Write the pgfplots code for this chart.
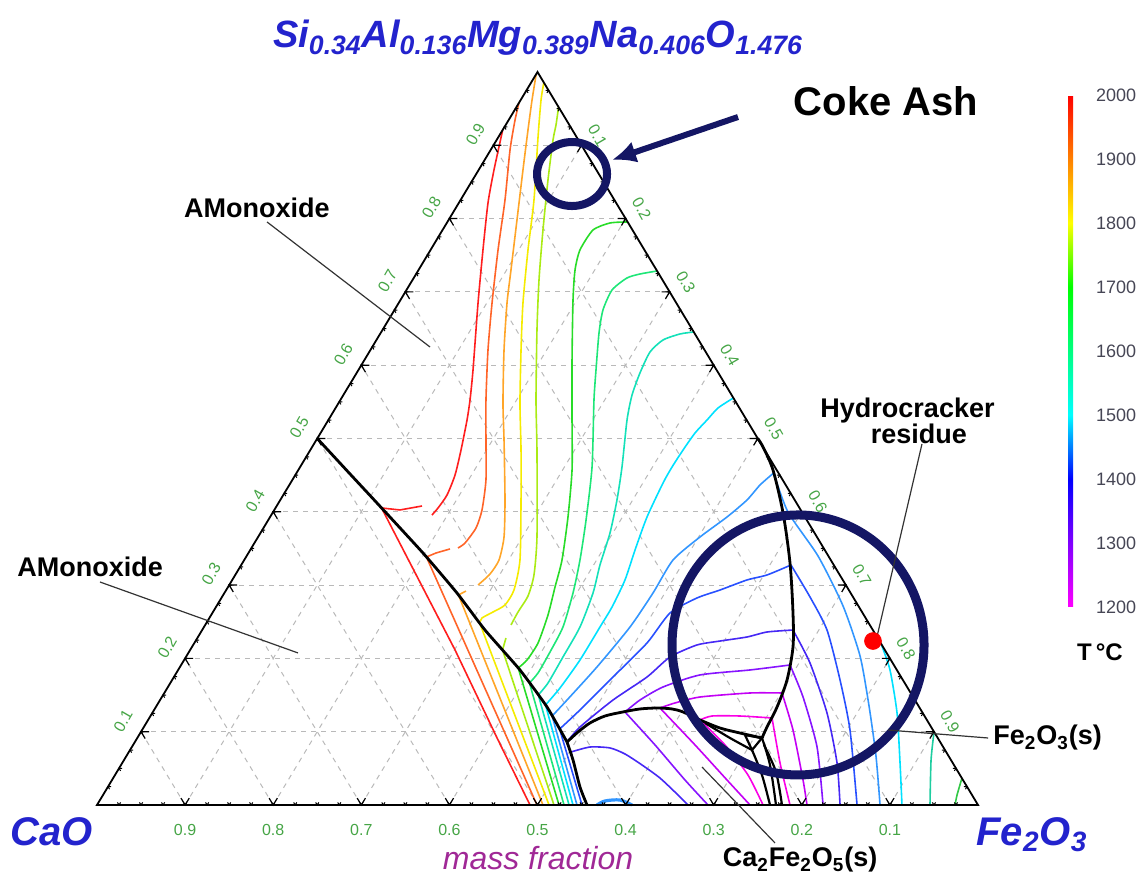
\documentclass[border=0pt]{standalone}
\usepackage{fontspec}
\setmainfont{Liberation Sans}
\usepackage{pgfplots}
\pgfplotsset{compat=1.18}
\usetikzlibrary{arrows.meta}
\definecolor{cL1}{RGB}{255,30,30}
\definecolor{cL2}{RGB}{255,100,40}
\definecolor{cL3}{RGB}{255,165,40}
\definecolor{cL4}{RGB}{245,235,0}
\definecolor{cL5}{RGB}{170,235,20}
\definecolor{cL6}{RGB}{40,220,40}
\definecolor{cL7}{RGB}{30,230,120}
\definecolor{cL8}{RGB}{20,225,185}
\definecolor{cL9}{RGB}{0,225,255}
\definecolor{cL10}{RGB}{50,150,255}
\definecolor{cL11}{RGB}{40,80,255}
\definecolor{cL12}{RGB}{70,40,245}
\definecolor{cL13}{RGB}{135,20,255}
\definecolor{cL14}{RGB}{195,0,245}
\definecolor{cL15}{RGB}{250,0,230}
\definecolor{cR8}{RGB}{30,205,160}
\definecolor{cR7}{RGB}{50,200,70}
\definecolor{navy}{RGB}{20,22,100}
\definecolor{titleblue}{RGB}{35,35,205}
\definecolor{tickgreen}{RGB}{70,165,70}
\definecolor{gridgray}{RGB}{185,185,185}
\definecolor{cbgray}{RGB}{70,70,85}
\definecolor{massmag}{RGB}{160,40,150}
\tikzset{
  grid/.style={draw=gridgray, line width=0.5pt, dash pattern=on 2.5pt off 2.5pt},
  tk/.style={draw=black, line width=0.6pt},
  tl/.style={font=\fontsize{8}{8}\selectfont, text=tickgreen, inner sep=0pt},
  lab/.style={font=\fontsize{13.5}{15}\selectfont\bfseries, text=black, inner sep=0pt},
  ldr/.style={draw=black!80, line width=0.6pt},
  bnd/.style={draw=black, line width=1.4pt},
}
\pgfplotsset{ct/.style={line width=0.8pt, line join=round}}
\begin{document}
\begin{tikzpicture}
\useasboundingbox (0,0) rectangle (570.5pt,441pt);
\begin{axis}[
  scale only axis, width=570.5pt, height=441pt,
  at={(0,0)}, anchor=south west,
  xmin=-0.11010, xmax=1.18501, ymin=-0.10505, ymax=1.09823,
  hide axis, clip=false,
  colormap={tc}{rgb255(0cm)=(255,0,255); rgb255(1cm)=(128,0,255); rgb255(2cm)=(0,0,255); rgb255(3cm)=(0,255,255); rgb255(4cm)=(0,255,128); rgb255(5cm)=(0,255,0); rgb255(6cm)=(255,255,0); rgb255(7cm)=(255,128,0); rgb255(8cm)=(255,0,0)},
  colorbar,
  point meta min=1200, point meta max=2000,
  colorbar style={
    at={(parent axis.south west)},
    anchor=south west,
    xshift=525.5pt, yshift=137.5pt,
    width=2.5pt, height=256pt, scale only axis,
    ytick={1200,1300,1400,1500,1600,1700,1800,1900,2000},
    major tick length=0pt,
    axis line style={draw=none},
    yticklabel style={font=\fontsize{9}{9}\selectfont, text=cbgray, xshift=8pt},
    /pgf/number format/1000 sep={},
    /pgf/number format/assume math mode=true,
  },
]
% ---------- grid ----------
\pgfplotsinvokeforeach{1,...,9}{
  \draw[grid] (axis cs:{#1/20},{#1/10}) -- (axis cs:{1-#1/20},{#1/10});
  \draw[grid] (axis cs:{#1/10},0) -- (axis cs:{0.5+#1/20},{1-#1/10});
  \draw[grid] (axis cs:{#1/10},0) -- (axis cs:{#1/20},{#1/10});
}
% ---------- contours, upper liquid field + fan ----------
\addplot[cL1, ct, smooth, tension=0.4] coordinates {(0.4605,0.9209)(0.4506,0.8663)(0.4438,0.8213)(0.4381,0.7572)(0.4325,0.6849)(0.4268,0.5935)(0.4234,0.5525)(0.4200,0.5252)(0.4132,0.4843)(0.4064,0.4502)(0.3973,0.4229)(0.3871,0.4052)(0.3802,0.3956)};
\addplot[cL1, ct] coordinates {(0.3689,0.4079)(0.3439,0.4025)(0.3230,0.4052)(0.3553,0.3302)(0.4064,0.2115)(0.4552,0.0887)(0.4915,0)};
\addplot[cL2, ct, smooth, tension=0.4] coordinates {(0.4789,0.9577)(0.4745,0.9345)(0.4688,0.8936)(0.4631,0.8254)(0.4552,0.7572)(0.4484,0.6849)(0.4438,0.6207)(0.4415,0.5525)(0.4415,0.4980)(0.4415,0.4434)(0.4370,0.4025)(0.4302,0.3779)(0.4177,0.3574)(0.4098,0.3506)};
\addplot[cL2, ct] coordinates {(0.4007,0.3493)(0.3848,0.3438)(0.3739,0.3383)(0.4994,0)};
\addplot[cL3, ct, smooth, tension=0.4] coordinates {(0.4985,0.9970)(0.4938,0.9618)(0.4892,0.9209)(0.4835,0.8663)(0.4767,0.7981)(0.4699,0.7299)(0.4654,0.6849)(0.4620,0.6207)(0.4608,0.5484)(0.4620,0.4980)(0.4631,0.4161)(0.4620,0.3656)(0.4563,0.3342)(0.4461,0.3151)(0.4325,0.3001)};
\addplot[cL3, ct] coordinates {(0.4188,0.2919)(0.4103,0.2865)(0.5062,0)};
\addplot[cL4, ct, smooth, tension=0.4] coordinates {(0.5072,0.9856)(0.5040,0.9618)(0.5006,0.9113)(0.4960,0.8254)(0.4892,0.7572)(0.4835,0.6849)(0.4813,0.6207)(0.4801,0.5484)(0.4813,0.4843)(0.4813,0.4161)(0.4801,0.3342)(0.4733,0.2933)(0.4631,0.2729)(0.4495,0.2633)(0.4370,0.2551)(0.4344,0.2482)};
\addplot[cL4, ct] coordinates {(0.4344,0.2482)(0.5131,0)};
\addplot[cL5, ct, smooth, tension=0.4] coordinates {(0.5239,0.9523)(0.5210,0.9277)(0.5176,0.9072)(0.5119,0.8527)(0.5062,0.7844)(0.5017,0.7162)(0.4994,0.6480)(0.4983,0.5525)(0.4994,0.4843)(0.4994,0.3656)(0.4960,0.3138)(0.4892,0.2851)(0.4779,0.2633)(0.4699,0.2456)};
\addplot[cL5, ct] coordinates {(0.4642,0.2278)(0.4603,0.2115)(0.5187,0)};
\addplot[cL6, ct, smooth, tension=0.4] coordinates {(0.6020,0.7954)(0.5823,0.7940)(0.5630,0.7844)(0.5482,0.7572)(0.5426,0.7299)(0.5403,0.6889)(0.5392,0.6071)(0.5392,0.5252)(0.5392,0.4570)(0.5346,0.3929)(0.5278,0.3342)(0.5199,0.2974)(0.5119,0.2592)(0.5006,0.2210)(0.4881,0.1978)(0.4781,0.1869)};
\addplot[cL6, ct] coordinates {(0.4781,0.1869)(0.5244,0)};
\addplot[cL7, ct, smooth, tension=0.4] coordinates {(0.6357,0.7285)(0.6163,0.7244)(0.6016,0.7190)(0.5846,0.7026)(0.5743,0.6753)(0.5698,0.6439)(0.5664,0.5935)(0.5641,0.5525)(0.5619,0.4611)(0.5551,0.3888)(0.5482,0.3342)(0.5403,0.2892)(0.5289,0.2428)(0.5142,0.2087)(0.5006,0.1801)(0.4909,0.1665)};
\addplot[cL7, ct] coordinates {(0.4909,0.1665)(0.5301,0)};
\addplot[cL8, ct, smooth, tension=0.4] coordinates {(0.6772,0.6453)(0.6618,0.6426)(0.6425,0.6344)(0.6277,0.6180)(0.6163,0.5894)(0.6073,0.5593)(0.6016,0.5252)(0.5959,0.4611)(0.5902,0.4161)(0.5823,0.3711)(0.5709,0.3274)(0.5630,0.2892)(0.5482,0.2428)(0.5289,0.2019)(0.5119,0.1664)(0.5009,0.1501)};
\addplot[cL8, ct] coordinates {(0.5009,0.1501)(0.5358,0)};
\addplot[cL9, ct, smooth, tension=0.4] coordinates {(0.7224,0.5553)(0.7049,0.5416)(0.6924,0.5252)(0.6788,0.5075)(0.6652,0.4843)(0.6527,0.4611)(0.6425,0.4393)(0.6243,0.3929)(0.6107,0.3479)(0.5993,0.3070)(0.5846,0.2701)(0.5709,0.2428)(0.5482,0.1978)(0.5255,0.1596)(0.5091,0.1364)};
\addplot[cL9, ct] coordinates {(0.5091,0.1364)(0.5403,0)};
\addplot[cL10, ct, smooth, tension=0.4] coordinates {(0.7680,0.4529)(0.7526,0.4366)(0.7378,0.4161)(0.7151,0.3929)(0.6844,0.3656)(0.6538,0.3342)(0.6311,0.2892)(0.6050,0.2428)(0.5675,0.1883)(0.5335,0.1432)(0.5166,0.1214)};
\addplot[cL10, ct] coordinates {(0.5166,0.1214)(0.5448,0)};
\addplot[cL10, ct, smooth, tension=0.4] coordinates {(0.7680,0.4529)(0.7843,0.3997)(0.8184,0.3397)(0.8468,0.2715)(0.8661,0.2033)(0.8763,0.1351)(0.8842,0.0668)(0.8888,0)};
\addplot[cL11, ct, smooth, tension=0.4] coordinates {(0.7877,0.3274)(0.7605,0.3138)(0.7378,0.3070)(0.7072,0.2933)(0.6810,0.2824)(0.6504,0.2619)(0.6243,0.2210)(0.5857,0.1746)(0.5482,0.1296)(0.5251,0.1036)};
\addplot[cL11, ct] coordinates {(0.5251,0.1036)(0.5505,0)};
\addplot[cL11, ct, smooth, tension=0.4] coordinates {(0.7877,0.3274)(0.8093,0.2838)(0.8286,0.2387)(0.8434,0.1705)(0.8547,0.1023)(0.8627,0)};
\addplot[cL12, ct, smooth, tension=0.4] coordinates {(0.7900,0.2387)(0.7605,0.2360)(0.7378,0.2292)(0.7072,0.2237)(0.6810,0.2183)(0.6504,0.2019)(0.6243,0.1746)(0.5857,0.1432)(0.5482,0.1064)(0.5335,0.0859)};
\addplot[cL12, ct, smooth, tension=0.4] coordinates {(0.7900,0.2387)(0.8093,0.1937)(0.8286,0.1255)(0.8400,0.0573)(0.8434,0)};
\addplot[cL12, ct, smooth, tension=0.4] coordinates {(0.5380,0.0723)(0.5596,0.0791)(0.5823,0.0778)(0.5993,0.0696)(0.6186,0.0546)(0.6390,0.0368)(0.6595,0.0136)(0.6708,0)};
\addplot[cL13, ct, smooth, tension=0.4] coordinates {(0.7866,0.1910)(0.7412,0.1842)(0.6844,0.1774)(0.6425,0.1610)(0.6163,0.1432)(0.5993,0.1269)};
\addplot[cL13, ct, smooth, tension=0.4] coordinates {(0.5993,0.1269)(0.6334,0.0819)(0.6674,0.0341)(0.6935,0)};
\addplot[cL13, ct, smooth, tension=0.4] coordinates {(0.7866,0.1910)(0.8014,0.1473)(0.8173,0.0791)(0.8241,0)};
\addplot[cL14, ct, smooth, tension=0.4] coordinates {(0.7775,0.1528)(0.7412,0.1528)(0.6844,0.1473)(0.6561,0.1392)(0.6390,0.1323)};
\addplot[cL14, ct, smooth, tension=0.4] coordinates {(0.6390,0.1323)(0.6788,0.0819)(0.7151,0.0341)(0.7412,0)};
\addplot[cL14, ct, smooth, tension=0.4] coordinates {(0.7775,0.1528)(0.7900,0.1023)(0.8014,0.0341)(0.8059,0)};
\addplot[cL15, ct, smooth, tension=0.4] coordinates {(0.7662,0.1187)(0.7298,0.1214)(0.6981,0.1214)(0.6844,0.1160)};
\addplot[cL15, ct, smooth, tension=0.4] coordinates {(0.6844,0.1160)(0.7128,0.0819)(0.7389,0.0409)(0.7560,0)};
\addplot[cL15, ct, smooth, tension=0.4] coordinates {(0.7662,0.1187)(0.7753,0.0573)(0.7866,0)};
\addplot[cL9, ct, smooth, tension=0.4] coordinates {(0.8905,0.2183)(0.9001,0.1842)(0.9081,0.1255)(0.9115,0.0573)(0.9137,0)};
\addplot[cR8, ct, smooth, tension=0.4] coordinates {(0.9501,0.0996)(0.9467,0.0614)(0.9455,0)};
\addplot[cR7, ct, smooth, tension=0.4] coordinates {(0.9818,0.0368)(0.9762,0.0136)(0.9739,0)};
\addplot[cL10, line width=1.6pt, smooth] coordinates {(0.5675,0)(0.5766,0.0055)(0.5936,0.0068)(0.6073,0)};
% ---------- phase boundaries ----------
\addplot[bnd, smooth, tension=0.3] coordinates {(0.25,0.5)(0.2872,0.4516)(0.3178,0.4120)(0.3700,0.3438)(0.4086,0.2892)(0.4404,0.2387)(0.4801,0.1842)(0.5108,0.1337)(0.5335,0.0859)};
\addplot[bnd, smooth, tension=0.4] coordinates {(0.5335,0.0859)(0.5403,0.0614)(0.5482,0.0246)(0.5562,0)};
\addplot[bnd, smooth, tension=0.5] coordinates {(0.5335,0.0859)(0.5460,0.0996)(0.5596,0.1119)(0.5766,0.1214)(0.5970,0.1269)(0.6163,0.1310)(0.6356,0.1323)(0.6527,0.1310)(0.6652,0.1269)(0.6844,0.1160)(0.7072,0.1050)(0.7298,0.0982)(0.7548,0.0914)};
\addplot[bnd, smooth, tension=0.5] coordinates {(0.75,0.5)(0.7560,0.4884)(0.7673,0.4570)(0.7787,0.3984)(0.7866,0.3302)(0.7900,0.2619)(0.7900,0.2156)(0.7832,0.1705)(0.7719,0.1337)(0.7605,0.1064)(0.7548,0.0914)};
\addplot[bnd, line width=1.1pt] coordinates {(0.7355,0.0955)(0.7548,0.0914)(0.7435,0.0750)(0.7355,0.0955)};
\addplot[bnd, line width=1.1pt, smooth] coordinates {(0.6901,0.1119)(0.7185,0.0914)(0.7435,0.0750)};
\addplot[bnd, line width=1.1pt, smooth] coordinates {(0.7435,0.0750)(0.7548,0.0409)(0.7639,0)};
\addplot[bnd, line width=1.1pt, smooth] coordinates {(0.7548,0.0914)(0.7639,0.0546)(0.7707,0)};
\addplot[bnd, line width=1.1pt, smooth] coordinates {(0.7571,0.0819)(0.7707,0.0450)(0.7775,0)};
% ---------- triangle frame and ticks ----------
\draw[black, line width=0.9pt] (axis cs:0,0) -- (axis cs:1,0) -- (axis cs:0.5,1) -- cycle;
\pgfplotsinvokeforeach{1,...,9}{
  \draw[tk] (axis cs:{#1/20+0.0091},{#1/10}) -- (axis cs:{#1/20},{#1/10}) -- (axis cs:{#1/20+0.0047},{#1/10-0.0094});
  \draw[tk] (axis cs:{0.5+#1/20-0.0091},{1-#1/10}) -- (axis cs:{0.5+#1/20},{1-#1/10}) -- (axis cs:{0.5+#1/20-0.0047},{1-#1/10-0.0094});
  \draw[tk] (axis cs:{#1/10-0.0047},0.0094) -- (axis cs:{#1/10},0) -- (axis cs:{#1/10+0.0047},0.0094);
  \node[tl, rotate=60] at (axis cs:{#1/20-0.0204},{#1/10+0.0150}) {0.#1};
  \node[tl, rotate=-60] at (axis cs:{0.5+#1/20+0.0182},{1-#1/10+0.0136}) {0.#1};
  \node[tl] at (axis cs:{1-#1/10},-0.0341) {0.#1};
}
\pgfplotsinvokeforeach{1,...,39}{
  \draw[tk, line width=0.5pt] (axis cs:{#1/80+0.0034},{#1/40}) -- (axis cs:{#1/80},{#1/40}) -- (axis cs:{#1/80+0.0018},{#1/40-0.0035});
  \draw[tk, line width=0.5pt] (axis cs:{0.5+#1/80-0.0034},{1-#1/40}) -- (axis cs:{0.5+#1/80},{1-#1/40}) -- (axis cs:{0.5+#1/80-0.0018},{1-#1/40-0.0035});
  \draw[tk, line width=0.5pt] (axis cs:{#1/40-0.0018},0.0035) -- (axis cs:{#1/40},0) -- (axis cs:{#1/40+0.0018},0.0035);
}
% ---------- annotations ----------
\draw[navy, line width=4pt] (axis cs:0.5392,0.8608) ellipse [x radius=17.5pt, y radius=16pt];
\draw[navy, line width=4.5pt] (axis cs:0.7957,0.2183) ellipse [x radius=63pt, y radius=65pt];
\draw[navy, line width=3pt, -{Latex[length=12pt,width=11pt]}] (axis cs:0.7276,0.9386) -- (axis cs:0.5846,0.8800);
\addplot[only marks, mark=*, mark size=4.2pt, red, draw=red] coordinates {(0.8808,0.2237)};
\draw[ldr] (axis cs:0.1930,0.7954) -- (axis cs:0.3780,0.6248);
\draw[ldr] (axis cs:0.0034,0.3042) -- (axis cs:0.2282,0.2074);
\draw[ldr] (axis cs:0.9364,0.4925) -- (axis cs:0.8842,0.2237);
\draw[ldr] (axis cs:0.8978,0.1023) -- (axis cs:1.0114,0.0914);
\draw[ldr] (axis cs:0.6867,0.0518) -- (axis cs:0.7696,-0.0518);
\node[font=\fontsize{19}{21}\selectfont\bfseries\itshape, text=titleblue, inner sep=0pt] at (axis cs:0.5006,1.0464)
  {Si\textsubscript{0.34}Al\textsubscript{0.136}Mg\textsubscript{0.389}Na\textsubscript{0.406}O\textsubscript{1.476}};
\node[font=\fontsize{20}{22}\selectfont\bfseries, inner sep=0pt] at (axis cs:0.8956,0.9604) {Coke Ash};
\node[lab] at (axis cs:0.1816,0.8145) {AMonoxide};
\node[lab] at (axis cs:-0.0079,0.3247) {AMonoxide};
\node[lab] at (axis cs:0.9200,0.5375) {Hydrocracker};
\node[lab] at (axis cs:0.9330,0.5060) {residue};
\node[lab, anchor=west] at (axis cs:1.0170,0.0914) {Fe\textsubscript{2}O\textsubscript{3}(s)};
\node[lab] at (axis cs:0.7980,-0.0750) {Ca\textsubscript{2}Fe\textsubscript{2}O\textsubscript{5}(s)};
\node[font=\fontsize{16}{18}\selectfont\itshape, text=massmag, inner sep=0pt] at (axis cs:0.5006,-0.0723) {mass fraction};
\node[font=\fontsize{20}{22}\selectfont\bfseries\itshape, text=titleblue, inner sep=0pt] at (axis cs:-0.0511,-0.0368) {CaO};
\node[font=\fontsize{20}{22}\selectfont\bfseries\itshape, text=titleblue, inner sep=0pt] at (axis cs:1.0613,-0.0409) {Fe\textsubscript{2}O\textsubscript{3}};
\node[font=\fontsize{12}{14}\selectfont\bfseries, inner sep=0pt] at (axis cs:1.1385,0.2087) {T\,°C};
\end{axis}
\end{tikzpicture}
\end{document}
